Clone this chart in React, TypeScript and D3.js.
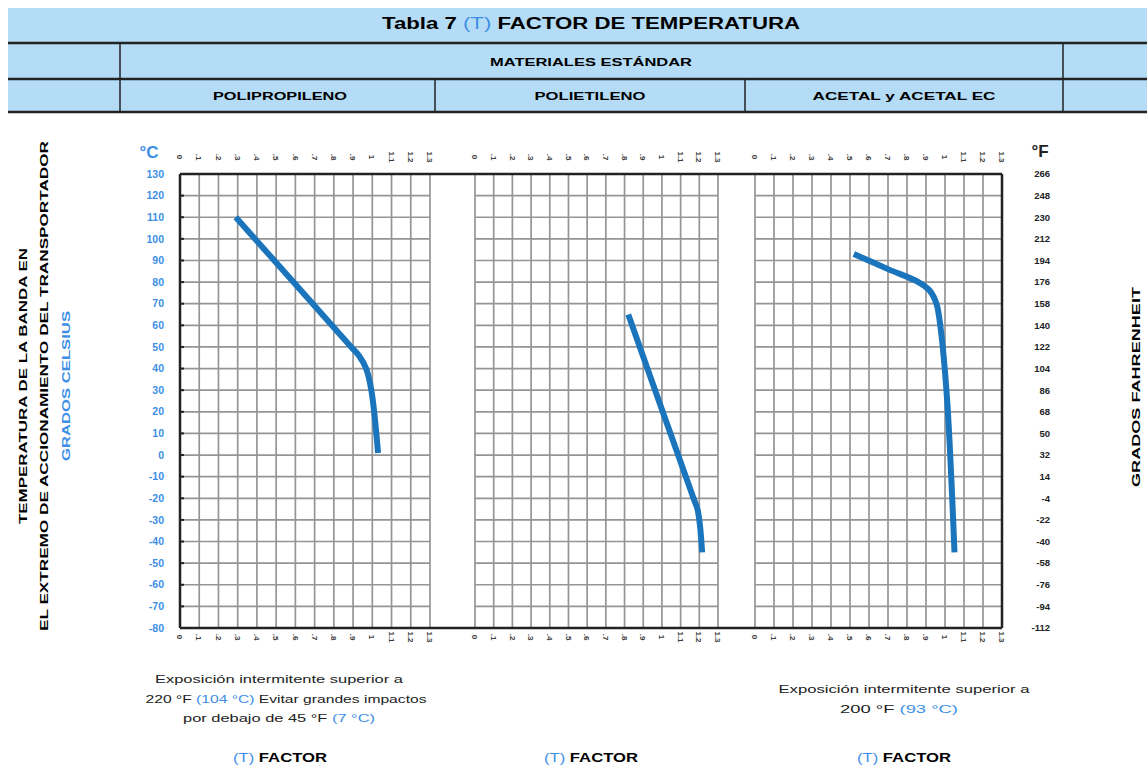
import * as d3 from 'd3';
import React from 'react';

// temperature axis (°C) and matching °F labels
const tempC = [130, 120, 110, 100, 90, 80, 70, 60, 50, 40, 30, 20, 10, 0, -10, -20, -30, -40, -50, -60, -70, -80];
const tempF = ['266', '248', '230', '212', '194', '176', '158', '140', '122', '104', '86', '68', '50', '32', '14', '-4', '-22', '-40', '-58', '-76', '-94', '-112'];

// factor axis ticks (same on every panel)
const factorTicks = [0, 0.1, 0.2, 0.3, 0.4, 0.5, 0.6, 0.7, 0.8, 0.9, 1, 1.1, 1.2, 1.3];
const factorLabels = ['0', '.1', '.2', '.3', '.4', '.5', '.6', '.7', '.8', '.9', '1', '1.1', '1.2', '1.3'];

const materials = ['POLIPROPILENO', 'POLIETILENO', 'ACETAL y ACETAL EC'];

// curves: [temperature °C, factor]
const polipropileno = [[110, 0.29], [50, 0.89], [46, 0.93], [40, 0.968], [30, 0.995], [1, 1.03]];
const polietileno = [[65, 0.82], [-20, 1.169], [-25, 1.19], [-33, 1.204], [-45, 1.215]];
const acetal = [[93, 0.52], [86, 0.7], [80, 0.86], [76, 0.92], [70, 0.955], [60, 0.975], [27, 1.01], [-45, 1.05]];
const curves = [polipropileno, polietileno, acetal];

const BLUE_TXT = '#3d8fe6';
const LINE_BLUE = '#1b75bc';
const BAND = '#b5dcf6';
const FONT = '"Liberation Sans", Arial, sans-serif';

export default function App() {
  const W = 1147, H = 767;
  const top = 174, bottom = 628;
  const y = d3.scaleLinear().domain([-80, 130]).range([bottom, top]);
  const panels = [[180, 430], [475, 718], [755, 1002]];
  const xs = panels.map(p => d3.scaleLinear().domain([0, 1.3]).range(p));

  const line = (sx) => d3.line()
    .x(d => sx(d[1]))
    .y(d => y(d[0]))
    .curve(d3.curveCatmullRom.alpha(0.5));

  return (
    <svg width={W} height={H} style={{ position: 'absolute', left: 0, top: 0, fontFamily: FONT }}>
      <rect width={W} height={H} fill="#fff" />
      {/* header */}
      <rect x={8} y={8} width={W - 8} height={104} fill={BAND} />
      <text x={591} y={29} textAnchor="middle" fontSize={16} fontWeight="bold" textLength={418} lengthAdjust="spacingAndGlyphs">
        Tabla 7 <tspan fill={BLUE_TXT} fontWeight="normal">(T)</tspan> FACTOR DE TEMPERATURA
      </text>
      <line x1={8} x2={W} y1={43} y2={43} stroke="#222" strokeWidth={2.5} />
      <text x={591} y={66} textAnchor="middle" fontSize={11} fontWeight="bold" textLength={202} lengthAdjust="spacingAndGlyphs">MATERIALES ESTÁNDAR</text>
      <line x1={8} x2={W} y1={79} y2={79} stroke="#222" strokeWidth={2.5} />
      {[[280, 134], [590, 111], [904, 183]].map(([cx, len], i) => (
        <text key={i} x={cx} y={100} textAnchor="middle" fontSize={11} fontWeight="bold" textLength={len} lengthAdjust="spacingAndGlyphs">{materials[i]}</text>
      ))}
      <line x1={8} x2={W} y1={112} y2={112} stroke="#222" strokeWidth={2.5} />
      <line x1={120} x2={120} y1={43} y2={112} stroke="#222" strokeWidth={1.5} />
      <line x1={1063} x2={1063} y1={43} y2={112} stroke="#222" strokeWidth={1.5} />
      <line x1={435} x2={435} y1={79} y2={112} stroke="#222" strokeWidth={1.5} />
      <line x1={745} x2={745} y1={79} y2={112} stroke="#222" strokeWidth={1.5} />

      {/* grids */}
      {xs.map((sx, pi) => (
        <g key={pi}>
          {factorTicks.map((t, i) => (
            <line key={'v' + i} x1={sx(t)} x2={sx(t)} y1={top} y2={bottom} stroke="#959595" strokeWidth={1.7} />
          ))}
          {tempC.map((t, i) => (
            <line key={'h' + i} x1={sx(0)} x2={sx(1.3)} y1={y(t)} y2={y(t)} stroke="#959595" strokeWidth={1.7} />
          ))}
          {factorTicks.map((t, i) => (
            <g key={'l' + i}>
              <text transform={`translate(${sx(t)},${157}) rotate(90)`} textAnchor="middle" dy="0.35em" fontSize={8} fontWeight="bold" fill="#3a3a3a">{factorLabels[i]}</text>
              <text transform={`translate(${sx(t)},${637}) rotate(90)`} textAnchor="middle" dy="0.35em" fontSize={8} fontWeight="bold" fill="#3a3a3a">{factorLabels[i]}</text>
            </g>
          ))}
          <path d={line(sx)(curves[pi])} fill="none" stroke={LINE_BLUE} strokeWidth={6} strokeLinecap="butt" strokeLinejoin="round" />
        </g>
      ))}
      {/* frame */}
      <line x1={panels[0][0]} x2={panels[2][1]} y1={top} y2={top} stroke="#222" strokeWidth={2.5} />
      <line x1={panels[0][0]} x2={panels[2][1]} y1={bottom} y2={bottom} stroke="#222" strokeWidth={2.5} />
      <line x1={panels[0][0]} x2={panels[0][0]} y1={top} y2={bottom} stroke="#222" strokeWidth={2.5} />
      <line x1={panels[2][1]} x2={panels[2][1]} y1={top} y2={bottom} stroke="#222" strokeWidth={2.5} />
      {tempC.map((t, i) => (
        <line key={'tk' + i} x1={panels[0][0]} x2={panels[0][0] + 4} y1={y(t)} y2={y(t)} stroke="#222" strokeWidth={2} />
      ))}

      {/* °C axis */}
      <text x={149} y={158} textAnchor="middle" fontSize={17} fontWeight="bold" fill={BLUE_TXT}>°C</text>
      {tempC.map((t, i) => (
        <text key={'c' + i} x={164} y={y(t)} dy="0.35em" textAnchor="end" fontSize={10.5} fontWeight="bold" fill={BLUE_TXT}>{t}</text>
      ))}
      {/* °F axis */}
      <text x={1040} y={157} textAnchor="middle" fontSize={17} fontWeight="bold" fill="#222">°F</text>
      {tempF.map((t, i) => (
        <text key={'f' + i} x={1050} y={y(tempC[i])} dy="0.35em" textAnchor="end" fontSize={9.5} fontWeight="bold" fill="#222">{t}</text>
      ))}

      {/* vertical titles */}
      <text transform="translate(23,386) rotate(-90)" textAnchor="middle" dy="0.35em" fontSize={11} fontWeight="bold" textLength={276} lengthAdjust="spacingAndGlyphs">TEMPERATURA DE LA BANDA EN</text>
      <text transform="translate(44,386) rotate(-90)" textAnchor="middle" dy="0.35em" fontSize={11} fontWeight="bold" textLength={490} lengthAdjust="spacingAndGlyphs">EL EXTREMO DE ACCIONAMIENTO DEL TRANSPORTADOR</text>
      <text transform="translate(66,386) rotate(-90)" textAnchor="middle" dy="0.35em" fontSize={10} fontWeight="bold" fill={BLUE_TXT} textLength={150} lengthAdjust="spacingAndGlyphs">GRADOS CELSIUS</text>
      <text transform="translate(1136,387) rotate(-90)" textAnchor="middle" dy="0.35em" fontSize={11} fontWeight="bold" textLength={200} lengthAdjust="spacingAndGlyphs">GRADOS FAHRENHEIT</text>

      {/* notes */}
      <g fontSize={11} fill="#222" textAnchor="middle">
        <text x={279} y={683} textLength={248} lengthAdjust="spacingAndGlyphs">Exposición intermitente superior a</text>
        <text x={286} y={703} textLength={281} lengthAdjust="spacingAndGlyphs">220 °F <tspan fill={BLUE_TXT}>(104 °C)</tspan> Evitar grandes impactos</text>
        <text x={279} y={722} textLength={192} lengthAdjust="spacingAndGlyphs">por debajo de 45 °F <tspan fill={BLUE_TXT}>(7 °C)</tspan></text>
        <text x={904} y={693} textLength={251} lengthAdjust="spacingAndGlyphs">Exposición intermitente superior a</text>
        <text x={899} y={713} textLength={118} lengthAdjust="spacingAndGlyphs">200 °F <tspan fill={BLUE_TXT}>(93 °C)</tspan></text>
      </g>
      {[280, 591, 904].map((cx, i) => (
        <text key={'tf' + i} x={cx} y={762} textAnchor="middle" fontSize={13} fontWeight="bold" textLength={94} lengthAdjust="spacingAndGlyphs">
          <tspan fill={BLUE_TXT} fontWeight="normal">(T)</tspan> FACTOR
        </text>
      ))}
    </svg>
  );
}
